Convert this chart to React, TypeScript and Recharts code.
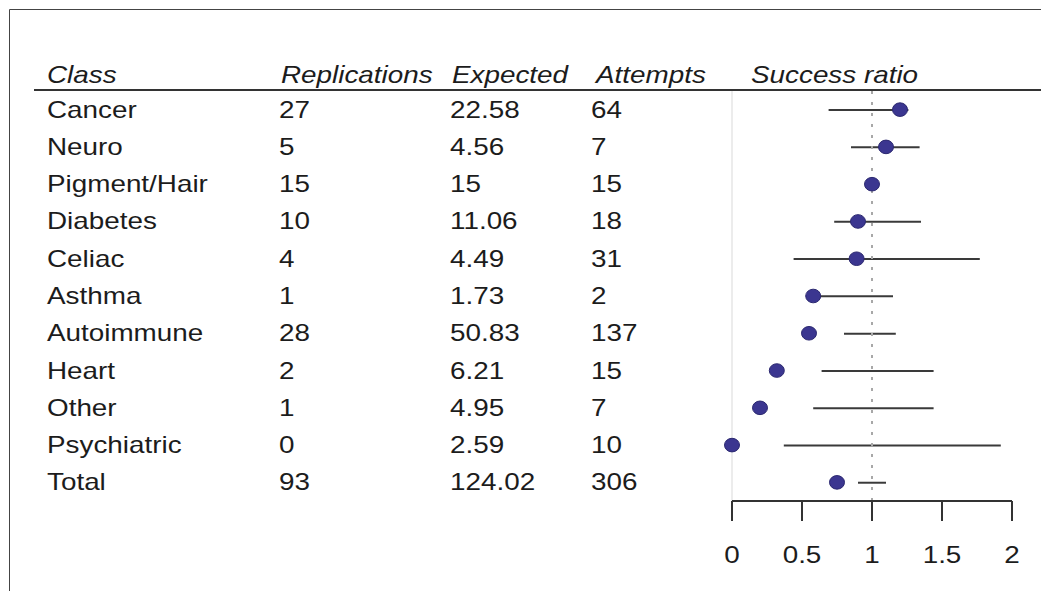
import { ComposedChart, XAxis, YAxis, Bar, Line, ReferenceLine } from "recharts";

const classes = [
  "Cancer",
  "Neuro",
  "Pigment/Hair",
  "Diabetes",
  "Celiac",
  "Asthma",
  "Autoimmune",
  "Heart",
  "Other",
  "Psychiatric",
  "Total",
];
const replications = [27, 5, 15, 10, 4, 1, 28, 2, 1, 0, 93];
const expected = [22.58, 4.56, 15, 11.06, 4.49, 1.73, 50.83, 6.21, 4.95, 2.59, 124.02];
const attempts = [64, 7, 15, 18, 31, 2, 137, 15, 7, 10, 306];
// success ratio
const successRatio = [1.2, 1.1, 1.0, 0.9, 0.89, 0.58, 0.55, 0.32, 0.2, 0, 0.75];
// horizontal interval lines (Pigment/Hair has none)
const rangeLow = [0.69, 0.85, null, 0.73, 0.44, 0.58, 0.8, 0.64, 0.58, 0.37, 0.9];
const rangeHigh = [1.26, 1.34, null, 1.35, 1.77, 1.15, 1.17, 1.44, 1.44, 1.92, 1.1];
const headers = ["Class", "Replications", "Expected", "Attempts", "Success ratio"];
const ratioTicks = [0, 0.5, 1, 1.5, 2];

const FONT = "'Liberation Sans', Arial, Helvetica, sans-serif";
const TEXT = "#1c1c1c";
const STRETCH = 1.16; // the source text is a bit wider than it is tall
const headerX = [47, 281, 452, 596, 751];
const cellX = [47, 279, 450, 591];

const rows = classes.map((cls, i) => ({
  cls,
  ratio: successRatio[i],
  range: rangeLow[i] == null ? null : [rangeLow[i], rangeHigh[i]],
}));

function Txt({ x, y, children, italic, anchor }: any) {
  return (
    <text
      transform={`translate(${x},${y}) scale(${STRETCH},1)`}
      fontFamily={FONT}
      fontSize={24}
      fontStyle={italic ? "italic" : "normal"}
      textAnchor={anchor || "start"}
      fill={TEXT}
    >
      {children}
    </text>
  );
}

// table cells drawn as the y axis tick of each row
const RowTick = (props: any) => {
  const { y, payload, index } = props;
  const i = index ?? payload.index;
  const base = y + 8;
  return (
    <g>
      <Txt x={cellX[0]} y={base}>{payload.value}</Txt>
      <Txt x={cellX[1]} y={base}>{String(replications[i])}</Txt>
      <Txt x={cellX[2]} y={base}>{String(expected[i])}</Txt>
      <Txt x={cellX[3]} y={base}>{String(attempts[i])}</Txt>
    </g>
  );
};

const RatioTick = (props: any) => {
  const { x, y, payload } = props;
  return (
    <Txt x={x} y={y + 40} anchor="middle">
      {String(payload.value)}
    </Txt>
  );
};

const RangeShape = (props: any) => {
  const { x, y, width, height, payload } = props;
  if (!payload || payload.range == null) return <g />;
  const cy = y + height / 2;
  return <line x1={x} x2={x + width} y1={cy} y2={cy} stroke="#3a3a3a" strokeWidth={2} />;
};

const RatioDot = (props: any) => {
  const { cx, cy, index } = props;
  if (cx == null || cy == null) return <g key={index} />;
  return (
    <ellipse
      key={index}
      cx={cx}
      cy={cy}
      rx={7.5}
      ry={6.8}
      fill="#3b3690"
      stroke="#2b2870"
      strokeWidth={1}
    />
  );
};

function Header() {
  return (
    <g>
      <line x1={9.5} y1={9.5} x2={1041} y2={9.5} stroke="#444" strokeWidth={1} />
      <line x1={9.5} y1={9.5} x2={9.5} y2={591} stroke="#444" strokeWidth={1} />
      {headers.map((h, i) => (
        <Txt key={h} x={headerX[i]} y={83} italic>
          {h}
        </Txt>
      ))}
      <line x1={34} y1={90} x2={1041} y2={90} stroke="#333" strokeWidth={2} />
    </g>
  );
}

export default function App() {
  return (
    <div style={{ position: "absolute", left: 0, top: 0, width: 1041, height: 591, background: "#fff" }}>
      <ComposedChart
        width={1041}
        height={591}
        data={rows}
        layout="vertical"
        margin={{ top: 91, right: 29, bottom: 0, left: 0 }}
      >
        <XAxis
          type="number"
          domain={[0, 2]}
          ticks={ratioTicks}
          height={90}
          tickSize={20}
          axisLine={{ stroke: "#333", strokeWidth: 2 }}
          tickLine={{ stroke: "#333", strokeWidth: 2 }}
          tick={<RatioTick />}
        />
        <YAxis
          type="category"
          dataKey="cls"
          width={732}
          interval={0}
          axisLine={false}
          tickLine={false}
          tick={<RowTick />}
        />
        <ReferenceLine x={0} stroke="#ececec" strokeWidth={2} />
        <ReferenceLine x={1} stroke="#a8a8a8" strokeWidth={2} strokeDasharray="3 8" />
        <Bar dataKey="range" barSize={2} shape={<RangeShape />} isAnimationActive={false} />
        <Line
          dataKey="ratio"
          stroke="none"
          dot={<RatioDot />}
          activeDot={false}
          isAnimationActive={false}
        />
        <Header />
      </ComposedChart>
    </div>
  );
}
